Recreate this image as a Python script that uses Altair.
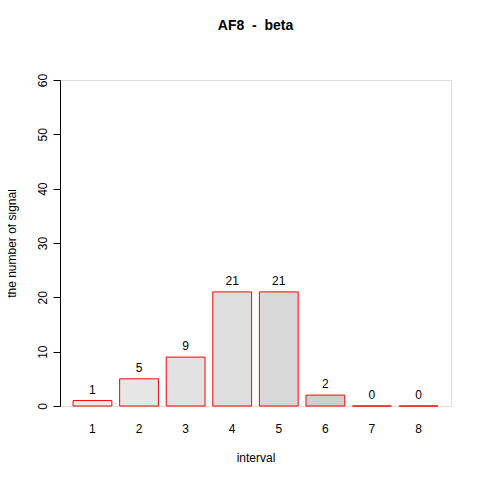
import altair as alt
import pandas as pd

intervals = ["1", "2", "3", "4", "5", "6", "7", "8"]
counts = [1, 5, 9, 21, 21, 2, 0, 0]
shade = ["#ececec", "#e6e6e6", "#e2e2e2", "#dedede", "#d8d8d8", "#cfcfcf", "#ffffff", "#ffffff"]

df = pd.DataFrame({"interval": intervals, "count": counts, "shade": shade})
font = "Liberation Sans"

x = alt.X("interval:O", sort=intervals,
          scale=alt.Scale(paddingInner=0.167, paddingOuter=0.28),
          axis=alt.Axis(title="interval", labelAngle=0, domain=False, ticks=False,
                        labelPadding=17, titlePadding=18, labelFontSize=12,
                        titleFontSize=12, titleFontWeight="normal",
                        labelFont=font, titleFont=font, labelColor="black", titleColor="black"))
y = alt.Y("count:Q", scale=alt.Scale(domain=[0, 60], nice=False),
          axis=alt.Axis(title="the number of signal", values=[0, 10, 20, 30, 40, 50, 60],
                        grid=False, labelAngle=-90, labelAlign="center", labelBaseline="bottom",
                        labelPadding=4, tickSize=7, titlePadding=18, offset=0,
                        labelFontSize=12, titleFontSize=12, titleFontWeight="normal",
                        labelFont=font, titleFont=font, domainColor="black", tickColor="black",
                        labelColor="black", titleColor="black"))

bars = alt.Chart(df).mark_bar(stroke="red", strokeWidth=1).encode(
    x=x, y=y, fill=alt.Fill("shade:N", scale=None))
labels = alt.Chart(df).mark_text(dy=-11, fontSize=12, font=font, color="black").encode(
    x=x, y="count:Q", text="count:Q")

chart = alt.layer(bars, labels).properties(
    width=391, height=326,
    title=alt.Title("AF8\u00a0\u00a0-\u00a0\u00a0beta", fontSize=14, fontWeight="bold",
                    font=font, offset=40),
    autosize=alt.AutoSizeParams(type="none"),
    padding={"left": 52, "top": 72, "right": 21, "bottom": 66},
).configure_view(stroke=None).configure_axis(grid=False).configure(background="white")

chart.save("out.html", embed_options={"renderer": "svg", "actions": False})
